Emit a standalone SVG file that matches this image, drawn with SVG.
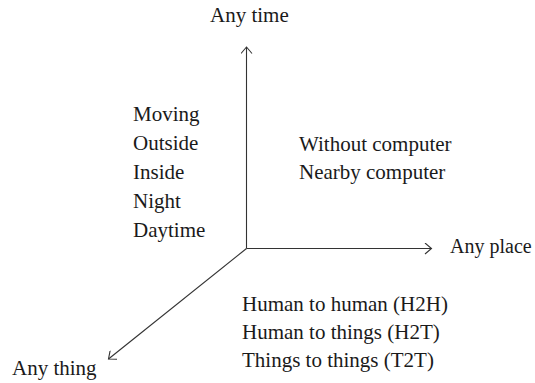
<svg xmlns="http://www.w3.org/2000/svg" width="535" height="383" viewBox="0 0 535 383">
<style>
text{font-family:"Liberation Serif","Times New Roman",serif;font-size:21px;fill:#1a1a1a}
.ax{stroke:#333;stroke-width:1.1;fill:none}
</style>
<defs>
<marker id="ah" viewBox="-10 -6 12 12" markerWidth="12" markerHeight="12" refX="0" refY="0" orient="auto" markerUnits="userSpaceOnUse">
<path d="M-6.5,-5.5 L0,0 L-6.5,5.5" fill="none" stroke="#333" stroke-width="1.1"/>
</marker>
</defs>
<rect width="535" height="383" fill="#fff"/>
<g id="connectors">
<line class="ax" x1="246.5" y1="248.5" x2="246.5" y2="47" marker-end="url(#ah)"/>
<line class="ax" x1="246.5" y1="248.5" x2="431.5" y2="248.5" marker-end="url(#ah)"/>
<line class="ax" x1="246.5" y1="248.5" x2="108.5" y2="359" marker-end="url(#ah)"/>
</g>
<g id="time-label"><text x="210" y="22">Any time</text></g>
<g id="place-label"><text x="450" y="252.5" style="font-size:20px">Any place</text></g>
<g id="thing-label"><text x="12" y="375">Any thing</text></g>
<g id="time-items">
<text x="133" y="121">Moving</text>
<text x="133" y="150">Outside</text>
<text x="133" y="179">Inside</text>
<text x="133" y="208">Night</text>
<text x="133" y="237">Daytime</text>
</g>
<g id="place-items">
<text x="299" y="151">Without computer</text>
<text x="299" y="179">Nearby computer</text>
</g>
<g id="thing-items">
<text x="242" y="311">Human to human (H2H)</text>
<text x="242" y="339">Human to things (H2T)</text>
<text x="242" y="367">Things to things (T2T)</text>
</g>
</svg>
